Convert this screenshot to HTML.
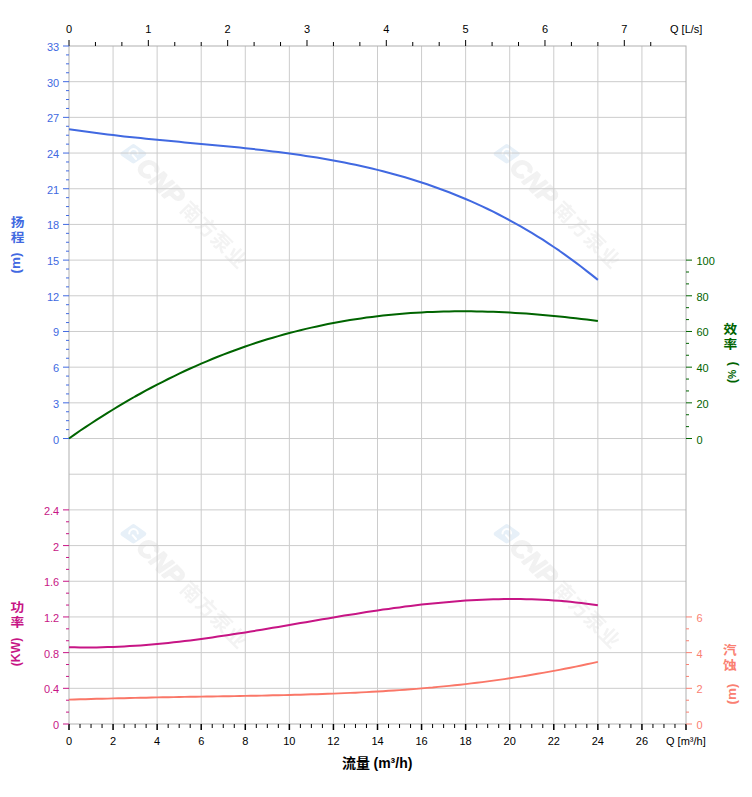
<!DOCTYPE html>
<html><head><meta charset="utf-8"><title>Pump curve</title>
<style>html,body{margin:0;padding:0;background:#fff}svg{display:block}text{font-family:"Liberation Sans","Noto Sans CJK SC",sans-serif}</style>
</head><body>
<svg width="752" height="797" viewBox="0 0 752 797">
<rect width="752" height="797" fill="#fff"/>
<defs><filter id="bl" x="-10%" y="-10%" width="120%" height="120%"><feGaussianBlur stdDeviation="0.7"/></filter></defs>
<g transform="translate(133.4 153.8)"><g filter="url(#bl)"><path d="M-10.6 0L0 -7.4L10.6 0L0 7.4Z" fill="#e7f0f8" stroke="#e7f0f8" stroke-width="4.6" stroke-linejoin="round"/><path d="M-4.2 -0.4A4.3 4.3 0 0 1 4.4 -0.4M-0.8 1.4L2.6 5.2" fill="none" stroke="#fff" stroke-width="2" stroke-linecap="round"/><g transform="rotate(45)"><text x="11.5" y="9.3" font-size="26" font-weight="bold" font-style="italic" fill="#f2f2f2" stroke="#f2f2f2" stroke-width="1.5" stroke-linejoin="round" font-family="'Liberation Sans', sans-serif">CNP</text><text x="72.2 93.5 114.8 136.1" y="7.6" font-size="20" font-weight="bold" fill="#f3f3f3" font-family="'Liberation Sans', 'Noto Sans CJK SC', sans-serif">南方泵业</text></g></g></g>
<g transform="translate(506.7 153.8)"><g filter="url(#bl)"><path d="M-10.6 0L0 -7.4L10.6 0L0 7.4Z" fill="#e7f0f8" stroke="#e7f0f8" stroke-width="4.6" stroke-linejoin="round"/><path d="M-4.2 -0.4A4.3 4.3 0 0 1 4.4 -0.4M-0.8 1.4L2.6 5.2" fill="none" stroke="#fff" stroke-width="2" stroke-linecap="round"/><g transform="rotate(45)"><text x="11.5" y="9.3" font-size="26" font-weight="bold" font-style="italic" fill="#f2f2f2" stroke="#f2f2f2" stroke-width="1.5" stroke-linejoin="round" font-family="'Liberation Sans', sans-serif">CNP</text><text x="72.2 93.5 114.8 136.1" y="7.6" font-size="20" font-weight="bold" fill="#f3f3f3" font-family="'Liberation Sans', 'Noto Sans CJK SC', sans-serif">南方泵业</text></g></g></g>
<g transform="translate(133.4 533.8)"><g filter="url(#bl)"><path d="M-10.6 0L0 -7.4L10.6 0L0 7.4Z" fill="#e7f0f8" stroke="#e7f0f8" stroke-width="4.6" stroke-linejoin="round"/><path d="M-4.2 -0.4A4.3 4.3 0 0 1 4.4 -0.4M-0.8 1.4L2.6 5.2" fill="none" stroke="#fff" stroke-width="2" stroke-linecap="round"/><g transform="rotate(45)"><text x="11.5" y="9.3" font-size="26" font-weight="bold" font-style="italic" fill="#f2f2f2" stroke="#f2f2f2" stroke-width="1.5" stroke-linejoin="round" font-family="'Liberation Sans', sans-serif">CNP</text><text x="72.2 93.5 114.8 136.1" y="7.6" font-size="20" font-weight="bold" fill="#f3f3f3" font-family="'Liberation Sans', 'Noto Sans CJK SC', sans-serif">南方泵业</text></g></g></g>
<g transform="translate(506.7 533.8)"><g filter="url(#bl)"><path d="M-10.6 0L0 -7.4L10.6 0L0 7.4Z" fill="#e7f0f8" stroke="#e7f0f8" stroke-width="4.6" stroke-linejoin="round"/><path d="M-4.2 -0.4A4.3 4.3 0 0 1 4.4 -0.4M-0.8 1.4L2.6 5.2" fill="none" stroke="#fff" stroke-width="2" stroke-linecap="round"/><g transform="rotate(45)"><text x="11.5" y="9.3" font-size="26" font-weight="bold" font-style="italic" fill="#f2f2f2" stroke="#f2f2f2" stroke-width="1.5" stroke-linejoin="round" font-family="'Liberation Sans', sans-serif">CNP</text><text x="72.2 93.5 114.8 136.1" y="7.6" font-size="20" font-weight="bold" fill="#f3f3f3" font-family="'Liberation Sans', 'Noto Sans CJK SC', sans-serif">南方泵业</text></g></g></g>
<path d="M113.07 46V724M157.14 46V724M201.21 46V724M245.29 46V724M289.36 46V724M333.43 46V724M377.5 46V724M421.57 46V724M465.64 46V724M509.71 46V724M553.79 46V724M597.86 46V724M641.93 46V724M69 81.68H686M69 117.37H686M69 153.05H686M69 188.74H686M69 224.42H686M69 260.11H686M69 295.79H686M69 331.47H686M69 367.16H686M69 402.84H686M69 438.53H686M69 474.21H686M69 509.89H686M69 545.58H686M69 581.26H686M69 616.95H686M69 652.63H686M69 688.32H686" stroke="#ccc" stroke-width="1" fill="none"/>
<rect x="69" y="46" width="617" height="678" fill="none" stroke="#b0b0b0" stroke-width="1"/>
<!--CURVES-->
<path d="M69.0 129.2L74.5 130.0L80.0 130.8L85.5 131.6L91.0 132.3L96.5 133.1L102.1 133.8L107.6 134.4L113.1 135.1L118.6 135.7L124.1 136.4L129.6 137.0L135.1 137.5L140.6 138.1L146.1 138.7L151.6 139.2L157.1 139.8L162.7 140.3L168.2 140.8L173.7 141.3L179.2 141.8L184.7 142.4L190.2 142.9L195.7 143.4L201.2 143.9L206.7 144.4L212.2 144.9L217.7 145.4L223.2 146.0L228.8 146.5L234.3 147.1L239.8 147.6L245.3 148.2L250.8 148.8L256.3 149.4L261.8 150.0L267.3 150.7L272.8 151.4L278.3 152.0L283.8 152.8L289.4 153.5L294.9 154.3L300.4 155.1L305.9 155.9L311.4 156.7L316.9 157.6L322.4 158.5L327.9 159.5L333.4 160.5L338.9 161.5L344.4 162.6L350.0 163.7L355.5 164.8L361.0 166.0L366.5 167.3L372.0 168.5L377.5 169.9L383.0 171.3L388.5 172.7L394.0 174.2L399.5 175.7L405.0 177.3L410.6 179.0L416.1 180.7L421.6 182.5L427.1 184.3L432.6 186.2L438.1 188.2L443.6 190.2L449.1 192.3L454.6 194.5L460.1 196.7L465.6 199.0L471.2 201.4L476.7 203.9L482.2 206.4L487.7 209.0L493.2 211.7L498.7 214.5L504.2 217.3L509.7 220.3L515.2 223.3L520.7 226.4L526.2 229.6L531.8 232.9L537.3 236.3L542.8 239.7L548.3 243.3L553.8 247.0L559.3 250.7L564.8 254.6L570.3 258.6L575.8 262.6L581.3 266.8L586.8 271.1L592.3 275.4L597.9 279.9" stroke="#4169e1" stroke-width="2" fill="none" stroke-linejoin="round"/>
<path d="M69.0 438.5L74.5 434.6L80.0 430.8L85.5 427.1L91.0 423.5L96.5 419.9L102.1 416.4L107.6 412.9L113.1 409.5L118.6 406.2L124.1 402.9L129.6 399.7L135.1 396.5L140.6 393.5L146.1 390.4L151.6 387.5L157.1 384.6L162.7 381.8L168.2 379.0L173.7 376.3L179.2 373.6L184.7 371.0L190.2 368.5L195.7 366.1L201.2 363.6L206.7 361.3L212.2 359.0L217.7 356.8L223.2 354.6L228.8 352.5L234.3 350.5L239.8 348.5L245.3 346.5L250.8 344.6L256.3 342.8L261.8 341.0L267.3 339.3L272.8 337.7L278.3 336.1L283.8 334.5L289.4 333.0L294.9 331.6L300.4 330.2L305.9 328.9L311.4 327.6L316.9 326.4L322.4 325.2L327.9 324.1L333.4 323.0L338.9 322.0L344.4 321.0L350.0 320.1L355.5 319.2L361.0 318.4L366.5 317.6L372.0 316.9L377.5 316.2L383.0 315.6L388.5 315.0L394.0 314.4L399.5 313.9L405.0 313.5L410.6 313.1L416.1 312.7L421.6 312.4L427.1 312.1L432.6 311.9L438.1 311.7L443.6 311.5L449.1 311.4L454.6 311.3L460.1 311.3L465.6 311.3L471.2 311.3L476.7 311.4L482.2 311.5L487.7 311.7L493.2 311.8L498.7 312.1L504.2 312.3L509.7 312.6L515.2 312.9L520.7 313.2L526.2 313.6L531.8 314.0L537.3 314.5L542.8 314.9L548.3 315.4L553.8 315.9L559.3 316.5L564.8 317.1L570.3 317.7L575.8 318.3L581.3 318.9L586.8 319.6L592.3 320.3L597.9 321.0" stroke="#006400" stroke-width="2.0" fill="none" stroke-linejoin="round"/>
<path d="M69.0 647.2L74.5 647.3L80.0 647.4L85.5 647.4L91.0 647.4L96.5 647.4L102.1 647.3L107.6 647.1L113.1 646.9L118.6 646.7L124.1 646.4L129.6 646.1L135.1 645.8L140.6 645.4L146.1 644.9L151.6 644.5L157.1 644.0L162.7 643.5L168.2 642.9L173.7 642.3L179.2 641.7L184.7 641.0L190.2 640.4L195.7 639.7L201.2 638.9L206.7 638.2L212.2 637.4L217.7 636.6L223.2 635.8L228.8 635.0L234.3 634.1L239.8 633.3L245.3 632.4L250.8 631.5L256.3 630.6L261.8 629.7L267.3 628.8L272.8 627.8L278.3 626.9L283.8 626.0L289.4 625.0L294.9 624.1L300.4 623.1L305.9 622.2L311.4 621.2L316.9 620.3L322.4 619.3L327.9 618.4L333.4 617.5L338.9 616.6L344.4 615.6L350.0 614.7L355.5 613.9L361.0 613.0L366.5 612.1L372.0 611.3L377.5 610.5L383.0 609.6L388.5 608.9L394.0 608.1L399.5 607.4L405.0 606.6L410.6 605.9L416.1 605.3L421.6 604.6L427.1 604.0L432.6 603.4L438.1 602.9L443.6 602.4L449.1 601.9L454.6 601.4L460.1 601.0L465.6 600.6L471.2 600.3L476.7 600.0L482.2 599.7L487.7 599.5L493.2 599.3L498.7 599.2L504.2 599.1L509.7 599.0L515.2 599.0L520.7 599.1L526.2 599.2L531.8 599.3L537.3 599.5L542.8 599.8L548.3 600.1L553.8 600.4L559.3 600.8L564.8 601.3L570.3 601.8L575.8 602.4L581.3 603.0L586.8 603.7L592.3 604.4L597.9 605.2" stroke="#c71585" stroke-width="2.0" fill="none" stroke-linejoin="round"/>
<path d="M69.0 699.6L74.5 699.5L80.0 699.3L85.5 699.2L91.0 699.0L96.5 698.8L102.1 698.7L107.6 698.6L113.1 698.4L118.6 698.3L124.1 698.2L129.6 698.0L135.1 697.9L140.6 697.8L146.1 697.7L151.6 697.5L157.1 697.4L162.7 697.3L168.2 697.2L173.7 697.1L179.2 697.0L184.7 696.9L190.2 696.8L195.7 696.7L201.2 696.6L206.7 696.5L212.2 696.5L217.7 696.4L223.2 696.3L228.8 696.2L234.3 696.1L239.8 696.0L245.3 695.9L250.8 695.8L256.3 695.7L261.8 695.6L267.3 695.5L272.8 695.3L278.3 695.2L283.8 695.1L289.4 695.0L294.9 694.8L300.4 694.7L305.9 694.5L311.4 694.3L316.9 694.2L322.4 694.0L327.9 693.8L333.4 693.6L338.9 693.4L344.4 693.1L350.0 692.9L355.5 692.7L361.0 692.4L366.5 692.1L372.0 691.8L377.5 691.5L383.0 691.2L388.5 690.8L394.0 690.5L399.5 690.1L405.0 689.7L410.6 689.3L416.1 688.9L421.6 688.4L427.1 687.9L432.6 687.5L438.1 686.9L443.6 686.4L449.1 685.9L454.6 685.3L460.1 684.7L465.6 684.1L471.2 683.4L476.7 682.8L482.2 682.1L487.7 681.4L493.2 680.6L498.7 679.9L504.2 679.1L509.7 678.3L515.2 677.4L520.7 676.6L526.2 675.7L531.8 674.8L537.3 673.8L542.8 672.9L548.3 671.9L553.8 670.9L559.3 669.9L564.8 668.8L570.3 667.7L575.8 666.6L581.3 665.5L586.8 664.3L592.3 663.1L597.9 661.9" stroke="#fa7768" stroke-width="1.9" fill="none" stroke-linejoin="round"/>
<path d="M69 46v-6M95.44 46v-4M121.89 46v-4M148.33 46v-6M174.77 46v-4M201.21 46v-4M227.66 46v-6M254.1 46v-4M280.54 46v-4M306.99 46v-6M333.43 46v-4M359.87 46v-4M386.31 46v-6M412.76 46v-4M439.2 46v-4M465.64 46v-6M492.09 46v-4M518.53 46v-4M544.97 46v-6M571.41 46v-4M597.86 46v-4M624.3 46v-6M650.74 46v-4" stroke="#000" stroke-width="1" fill="none"/>
<path d="M80.02 724v4M91.04 724v4M102.05 724v4M124.09 724v4M135.11 724v4M146.12 724v4M168.16 724v4M179.18 724v4M190.2 724v4M212.23 724v4M223.25 724v4M234.27 724v4M256.3 724v4M267.32 724v4M278.34 724v4M300.38 724v4M311.39 724v4M322.41 724v4M344.45 724v4M355.46 724v4M366.48 724v4M388.52 724v4M399.54 724v4M410.55 724v4M432.59 724v4M443.61 724v4M454.62 724v4M476.66 724v4M487.68 724v4M498.7 724v4M520.73 724v4M531.75 724v4M542.77 724v4M564.8 724v4M575.82 724v4M586.84 724v4M608.88 724v4M619.89 724v4M630.91 724v4M652.95 724v4M663.96 724v4M674.98 724v4" stroke="#000" stroke-width="1" fill="none"/>
<path d="M69 724v6M113.07 724v6M157.14 724v6M201.21 724v6M245.29 724v6M289.36 724v6M333.43 724v6M377.5 724v6M421.57 724v6M465.64 724v6M509.71 724v6M553.79 724v6M597.86 724v6M641.93 724v6M686 724v6" stroke="#000" stroke-width="1.5" fill="none"/>
<path d="M69 438.53h-6M69 429.61h-3M69 420.68h-3M69 411.76h-3M69 402.84h-6M69 393.92h-3M69 385h-3M69 376.08h-3M69 367.16h-6M69 358.24h-3M69 349.32h-3M69 340.39h-3M69 331.47h-6M69 322.55h-3M69 313.63h-3M69 304.71h-3M69 295.79h-6M69 286.87h-3M69 277.95h-3M69 269.03h-3M69 260.11h-6M69 251.18h-3M69 242.26h-3M69 233.34h-3M69 224.42h-6M69 215.5h-3M69 206.58h-3M69 197.66h-3M69 188.74h-6M69 179.82h-3M69 170.89h-3M69 161.97h-3M69 153.05h-6M69 144.13h-3M69 135.21h-3M69 126.29h-3M69 117.37h-6M69 108.45h-3M69 99.53h-3M69 90.61h-3M69 81.68h-6M69 72.76h-3M69 63.84h-3M69 54.92h-3M69 46h-6" stroke="#4169e1" stroke-width="1" fill="none"/>
<path d="M69 724h-6M69 712.11h-3M69 700.21h-3M69 688.32h-6M69 676.42h-3M69 664.53h-3M69 652.63h-6M69 640.74h-3M69 628.84h-3M69 616.95h-6M69 605.05h-3M69 593.16h-3M69 581.26h-6M69 569.37h-3M69 557.47h-3M69 545.58h-6M69 533.68h-3M69 521.79h-3M69 509.89h-6" stroke="#c71585" stroke-width="1" fill="none"/>
<path d="M686 438.53h6M686 426.63h3M686 414.74h3M686 402.84h6M686 390.95h3M686 379.05h3M686 367.16h6M686 355.26h3M686 343.37h3M686 331.47h6M686 319.58h3M686 307.68h3M686 295.79h6M686 283.89h3M686 272h3M686 260.11h6" stroke="#006400" stroke-width="1" fill="none"/>
<path d="M686 724h6M686 712.11h3M686 700.21h3M686 688.32h6M686 676.42h3M686 664.53h3M686 652.63h6M686 640.74h3M686 628.84h3M686 616.95h6" stroke="#fa8072" stroke-width="1" fill="none"/>
<g font-family="'Liberation Sans', 'Noto Sans CJK SC', sans-serif">
<text x="69" y="33" fill="#000" text-anchor="middle" font-size="11" font-weight="normal">0</text>
<text x="148.33" y="33" fill="#000" text-anchor="middle" font-size="11" font-weight="normal">1</text>
<text x="227.66" y="33" fill="#000" text-anchor="middle" font-size="11" font-weight="normal">2</text>
<text x="306.99" y="33" fill="#000" text-anchor="middle" font-size="11" font-weight="normal">3</text>
<text x="386.31" y="33" fill="#000" text-anchor="middle" font-size="11" font-weight="normal">4</text>
<text x="465.64" y="33" fill="#000" text-anchor="middle" font-size="11" font-weight="normal">5</text>
<text x="544.97" y="33" fill="#000" text-anchor="middle" font-size="11" font-weight="normal">6</text>
<text x="624.3" y="33" fill="#000" text-anchor="middle" font-size="11" font-weight="normal">7</text>
<text x="670" y="33" fill="#000" text-anchor="start" font-size="11" font-weight="normal">Q [L/s]</text>
<text x="69" y="744.6" fill="#000" text-anchor="middle" font-size="11" font-weight="normal">0</text>
<text x="113.07" y="744.6" fill="#000" text-anchor="middle" font-size="11" font-weight="normal">2</text>
<text x="157.14" y="744.6" fill="#000" text-anchor="middle" font-size="11" font-weight="normal">4</text>
<text x="201.21" y="744.6" fill="#000" text-anchor="middle" font-size="11" font-weight="normal">6</text>
<text x="245.29" y="744.6" fill="#000" text-anchor="middle" font-size="11" font-weight="normal">8</text>
<text x="289.36" y="744.6" fill="#000" text-anchor="middle" font-size="11" font-weight="normal">10</text>
<text x="333.43" y="744.6" fill="#000" text-anchor="middle" font-size="11" font-weight="normal">12</text>
<text x="377.5" y="744.6" fill="#000" text-anchor="middle" font-size="11" font-weight="normal">14</text>
<text x="421.57" y="744.6" fill="#000" text-anchor="middle" font-size="11" font-weight="normal">16</text>
<text x="465.64" y="744.6" fill="#000" text-anchor="middle" font-size="11" font-weight="normal">18</text>
<text x="509.71" y="744.6" fill="#000" text-anchor="middle" font-size="11" font-weight="normal">20</text>
<text x="553.79" y="744.6" fill="#000" text-anchor="middle" font-size="11" font-weight="normal">22</text>
<text x="597.86" y="744.6" fill="#000" text-anchor="middle" font-size="11" font-weight="normal">24</text>
<text x="641.93" y="744.6" fill="#000" text-anchor="middle" font-size="11" font-weight="normal">26</text>
<text x="666" y="744.6" fill="#000" text-anchor="start" font-size="11" font-weight="normal">Q [m³/h]</text>
<text x="59.2" y="443.53" fill="#4169e1" text-anchor="end" font-size="11" font-weight="normal">0</text>
<text x="59.2" y="407.84" fill="#4169e1" text-anchor="end" font-size="11" font-weight="normal">3</text>
<text x="59.2" y="372.16" fill="#4169e1" text-anchor="end" font-size="11" font-weight="normal">6</text>
<text x="59.2" y="336.47" fill="#4169e1" text-anchor="end" font-size="11" font-weight="normal">9</text>
<text x="59.2" y="300.79" fill="#4169e1" text-anchor="end" font-size="11" font-weight="normal">12</text>
<text x="59.2" y="265.11" fill="#4169e1" text-anchor="end" font-size="11" font-weight="normal">15</text>
<text x="59.2" y="229.42" fill="#4169e1" text-anchor="end" font-size="11" font-weight="normal">18</text>
<text x="59.2" y="193.74" fill="#4169e1" text-anchor="end" font-size="11" font-weight="normal">21</text>
<text x="59.2" y="158.05" fill="#4169e1" text-anchor="end" font-size="11" font-weight="normal">24</text>
<text x="59.2" y="122.37" fill="#4169e1" text-anchor="end" font-size="11" font-weight="normal">27</text>
<text x="59.2" y="86.68" fill="#4169e1" text-anchor="end" font-size="11" font-weight="normal">30</text>
<text x="59.2" y="51" fill="#4169e1" text-anchor="end" font-size="11" font-weight="normal">33</text>
<text x="59.2" y="729" fill="#c71585" text-anchor="end" font-size="11" font-weight="normal">0</text>
<text x="59.2" y="693.32" fill="#c71585" text-anchor="end" font-size="11" font-weight="normal">0.4</text>
<text x="59.2" y="657.63" fill="#c71585" text-anchor="end" font-size="11" font-weight="normal">0.8</text>
<text x="59.2" y="621.95" fill="#c71585" text-anchor="end" font-size="11" font-weight="normal">1.2</text>
<text x="59.2" y="586.26" fill="#c71585" text-anchor="end" font-size="11" font-weight="normal">1.6</text>
<text x="59.2" y="550.58" fill="#c71585" text-anchor="end" font-size="11" font-weight="normal">2</text>
<text x="59.2" y="514.89" fill="#c71585" text-anchor="end" font-size="11" font-weight="normal">2.4</text>
<text x="696.5" y="443.53" fill="#006400" text-anchor="start" font-size="11" font-weight="normal">0</text>
<text x="696.5" y="407.84" fill="#006400" text-anchor="start" font-size="11" font-weight="normal">20</text>
<text x="696.5" y="372.16" fill="#006400" text-anchor="start" font-size="11" font-weight="normal">40</text>
<text x="696.5" y="336.47" fill="#006400" text-anchor="start" font-size="11" font-weight="normal">60</text>
<text x="696.5" y="300.79" fill="#006400" text-anchor="start" font-size="11" font-weight="normal">80</text>
<text x="696.5" y="265.11" fill="#006400" text-anchor="start" font-size="11" font-weight="normal">100</text>
<text x="696.5" y="729" fill="#fa8072" text-anchor="start" font-size="11" font-weight="normal">0</text>
<text x="696.5" y="693.32" fill="#fa8072" text-anchor="start" font-size="11" font-weight="normal">2</text>
<text x="696.5" y="657.63" fill="#fa8072" text-anchor="start" font-size="11" font-weight="normal">4</text>
<text x="696.5" y="621.95" fill="#fa8072" text-anchor="start" font-size="11" font-weight="normal">6</text>
<text transform="translate(10.68 226.69) scale(1 0.9)" fill="#4169e1" font-size="13.7" font-weight="bold">扬</text>
<text transform="translate(10.68 241.89) scale(1 0.9)" fill="#4169e1" font-size="13.7" font-weight="bold">程</text>
<text transform="translate(20.2 273.6) rotate(-90)" fill="#4169e1" font-size="13.5" font-weight="bold">(m)</text>
<text transform="translate(10.38 611.99) scale(1 0.9)" fill="#c71585" font-size="13.7" font-weight="bold">功</text>
<text transform="translate(10.38 626.99) scale(1 0.9)" fill="#c71585" font-size="13.7" font-weight="bold">率</text>
<text transform="translate(19.6 666.3) rotate(-90)" fill="#c71585" font-size="12" font-weight="bold" textLength="28.6" lengthAdjust="spacingAndGlyphs">(KW)</text>
<text transform="translate(723.47 333.69) scale(1 0.9)" fill="#006400" font-size="13.7" font-weight="bold">效</text>
<text transform="translate(723.47 348.89) scale(1 0.9)" fill="#006400" font-size="13.7" font-weight="bold">率</text>
<text transform="translate(736 383.3) rotate(-90)" fill="#006400" font-size="13" font-weight="bold">(<tspan font-size="10.5">%</tspan><tspan dx="3.6">)</tspan></text>
<text transform="translate(723.07 654.99) scale(1 0.9)" fill="#fa8072" font-size="13.7" font-weight="bold">汽</text>
<text transform="translate(723.07 669.89) scale(1 0.9)" fill="#fa8072" font-size="13.7" font-weight="bold">蚀</text>
<text transform="translate(736.2 704.5) rotate(-90)" fill="#fa8072" font-size="13.5" font-weight="bold">(m)</text>
<text x="342 356.1" y="767.95" fill="#000" text-anchor="start" font-size="14" font-weight="bold">流量</text>
<text x="373.5" y="768" fill="#000" text-anchor="start" font-size="14" font-weight="bold">(m³/h)</text>
</g>
</svg>
</body></html>
